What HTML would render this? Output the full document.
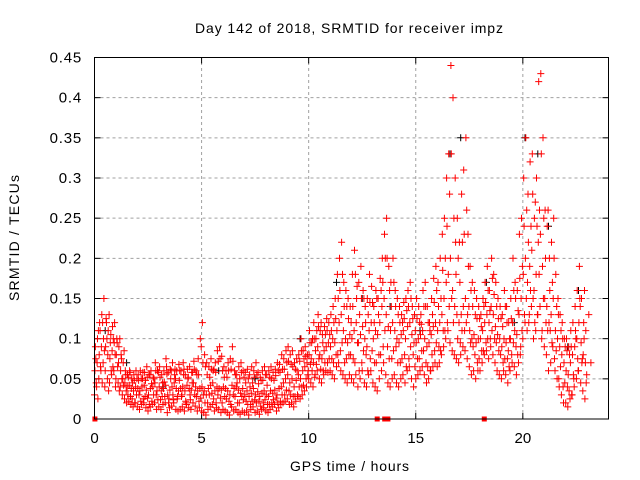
<!DOCTYPE html>
<html><head><meta charset="utf-8"><style>
body{margin:0;background:#fff}
svg{display:block;font-family:"Liberation Sans",sans-serif}
</style></head><body>
<svg id="chart" width="640" height="480">
<rect width="640" height="480" fill="#fff"/>
<text x="195" y="33" font-size="14" textLength="308" lengthAdjust="spacing" fill="#000">Day 142 of 2018, SRMTID for receiver impz</text>
<text x="290" y="471" font-size="14" textLength="119" lengthAdjust="spacing" fill="#000">GPS time / hours</text>
<text transform="translate(19,301) rotate(-90)" font-size="14" textLength="126" lengthAdjust="spacing" fill="#000">SRMTID / TECUs</text>
<g id="grid"></g>
<g id="ticks"></g>
<g id="marks"></g>
<rect x="94.5" y="57.5" width="514" height="361.5" fill="none" stroke="#000" stroke-width="1"/>
</svg>
<script>
const xTicks=[0,5,10,15,20];
const yTicks=[0,0.05,0.1,0.15,0.2,0.25,0.3,0.35,0.4,0.45];
const yTickLabels=["0","0.05","0.1","0.15","0.2","0.25","0.3","0.35","0.4","0.45"];
const sampleStep=0.1; // hours between samples
const redHi=[90,100,120,130,150,125,110,95,115,120,100,90,80,70,60,55,60,50,55,60,55,60,50,58,65,55,60,52,70,60,65,55,60,75,58,62,70,55,60,68,60,70,55,62,65,58,72,60,75,100,120,80,70,65,75,60,70,85,90,78,65,60,70,75,90,60,55,65,70,60,58,62,55,65,60,70,58,52,60,65,55,60,65,58,62,70,68,80,75,85,90,80,85,70,75,80,100,85,90,80,110,95,120,100,130,110,105,115,125,120,130,140,150,180,200,220,170,160,150,140,180,210,150,170,190,160,140,150,180,165,140,160,150,175,200,230,250,190,170,200,160,150,140,130,145,150,160,170,140,130,150,140,130,160,170,140,120,150,175,190,170,200,230,250,300,330,440,400,300,250,220,280,310,350,230,190,170,160,150,140,130,150,170,190,160,200,180,170,150,140,130,160,140,120,150,200,170,160,230,250,300,350,280,320,330,250,300,420,430,350,260,240,200,220,250,180,150,130,120,100,100,90,110,120,140,160,190,150,120,110];
const redMid=[60,70,80,90,100,90,80,75,85,95,80,70,60,50,45,40,42,38,35,40,38,35,40,42,36,30,38,40,45,35,40,35,38,42,30,36,40,45,38,35,38,40,35,42,38,36,45,40,35,38,40,35,30,38,42,45,35,40,38,36,40,38,35,30,42,38,40,36,32,38,30,35,28,32,38,30,34,28,32,35,30,28,35,32,36,30,38,40,45,50,55,45,50,40,48,55,50,60,65,70,80,75,70,85,90,80,75,85,90,95,90,100,95,110,120,130,110,100,95,105,100,110,120,95,105,115,100,90,110,120,100,110,105,120,140,150,130,115,110,120,110,100,95,105,110,100,115,120,105,95,95,100,105,110,100,90,95,105,115,120,110,120,130,150,170,180,200,160,140,130,120,130,140,150,130,110,100,105,95,100,100,110,120,130,120,140,130,115,105,100,90,100,95,85,100,120,110,105,130,150,180,200,170,190,210,160,180,220,230,190,150,140,120,130,150,110,100,90,80,70,60,55,70,80,90,100,120,95,80,70];
const redLo=[30,40,50,60,70,60,50,45,55,60,50,45,40,30,25,20,22,18,15,20,15,12,18,20,14,10,15,18,20,12,15,12,18,20,8,14,16,20,12,10,12,15,10,18,14,12,20,16,10,14,10,8,5,12,15,18,10,14,12,8,12,10,8,5,15,10,12,8,6,10,8,10,5,12,15,8,10,6,12,14,10,8,12,15,18,10,14,18,20,22,25,18,20,15,22,28,25,30,35,40,50,45,40,55,60,50,45,55,60,58,60,55,50,65,70,60,55,50,45,55,50,45,55,40,50,60,45,40,55,60,45,40,35,50,60,70,55,45,40,50,55,45,40,50,55,45,60,65,50,40,50,55,60,65,55,45,50,60,65,70,65,70,80,90,100,110,95,85,80,75,70,80,90,85,75,65,55,60,50,60,60,70,80,85,75,90,80,70,60,55,50,60,55,45,60,70,65,55,70,90,100,120,110,130,140,100,110,130,140,110,90,80,60,70,90,60,50,40,30,20,20,15,25,30,40,50,60,45,35,25];
const redQ1=[75,25,110,45,85,120,35,105,65,80,95,35,75,42,55,30,58,25,48,30,48,22,58,28,52,18,44,30,60,24,52,28,46,65,20,50,30,62,25,48,28,55,22,50,30,45,62,28,55,26,70,20,55,30,62,25,58,30,75,20,52,25,60,18,72,28,45,20,58,24,45,18,40,22,52,20,44,16,48,24,42,18,50,24,54,20,58,30,62,36,72,30,65,28,60,40,85,42,78,55,95,60,100,68,115,62,95,70,110,75,110,70,125,80,160,95,140,75,125,80,140,70,165,60,150,85,120,60,145,85,120,70,130,80,170,110,200,75,140,85,140,70,120,75,125,65,140,90,125,65,125,75,118,85,140,65,110,80,145,95,140,85,185,110,240,140,330,120,220,100,170,110,230,120,190,95,140,80,125,75,115,85,145,100,135,110,155,95,125,80,115,75,120,65,125,95,150,80,175,110,240,150,220,160,280,120,240,180,330,150,200,110,160,95,200,85,130,65,100,45,85,35,90,55,110,75,150,70,100,45];
const redQ2=[45,110,65,120,40,100,130,60,100,40,65,100,50,85,35,52,28,45,20,50,30,50,25,48,26,55,22,50,30,58,24,45,28,56,25,60,24,50,28,60,30,62,20,52,24,58,30,55,22,90,30,65,20,52,32,62,20,72,26,60,28,52,22,62,30,55,20,50,28,52,22,50,18,45,24,55,22,48,20,55,18,52,20,48,26,60,22,62,30,70,35,68,28,62,30,72,40,75,50,60,68,100,52,110,75,120,60,105,70,105,75,120,80,150,85,180,70,140,80,120,75,180,95,130,70,150,80,130,75,145,70,150,80,160,90,200,90,160,75,170,90,130,70,120,80,135,75,150,80,110,75,120,85,140,70,120,60,130,85,160,90,150,110,200,120,280,150,250,180,200,95,220,110,260,140,160,90,130,70,125,85,140,95,160,100,175,100,140,85,125,70,140,75,100,80,160,90,135,80,190,130,260,120,240,150,270,130,260,100,250,120,260,110,170,75,140,50,110,40,90,40,80,30,50,100,60,140,75,160,55,130,70];
const blackTimes=[0.5,1.5,3.2,5.8,7.5,9.6,11.3,12.5,13.8,15.2,16.6,17.1,18.3,19.6,20.1,20.7,21.2,22.1,22.6];
const blackVals=[110,70,40,60,50,100,170,150,140,110,330,350,170,120,350,330,240,90,160];
const zeroTimes=[0.02,13.2,13.55,13.7,18.2];

const svg=document.getElementById('chart');
const NS='http://www.w3.org/2000/svg';
const X0=94.5,X1=608.5,Y0=419,Y1=57.5,XMAX=24,YMAX=0.45;
function xs(t){return X0+t/XMAX*(X1-X0);}
function ys(v){return Y0-v/YMAX*(Y0-Y1);}
const grid=document.getElementById('grid'),ticks=document.getElementById('ticks'),marks=document.getElementById('marks');
function el(tag,attrs,parent){const e=document.createElementNS(NS,tag);for(const k in attrs)e.setAttribute(k,attrs[k]);parent.appendChild(e);return e;}
xTicks.forEach(t=>{
  const x=xs(t);
  if(t>0){const g=el('line',{x1:x,y1:Y0,x2:x,y2:Y1,stroke:'#a0a0a0','stroke-dasharray':'3,3'},grid);
  
  }
  el('line',{x1:x,y1:Y0,x2:x,y2:Y0-6,stroke:'#000'},ticks);
  el('line',{x1:x,y1:Y1,x2:x,y2:Y1+6,stroke:'#000'},ticks);
  const tx=el('text',{x:x,y:443,'font-size':15,'text-anchor':'middle'},ticks);
  tx.textContent=String(t);
  
  
});
yTicks.forEach((v,i)=>{
  const y=ys(v);
  if(i>0&&i<yTicks.length-1){const g=el('line',{x1:X0,y1:y,x2:X1,y2:y,stroke:'#a0a0a0','stroke-dasharray':'3,3'},grid);
  
  }
  el('line',{x1:X0,y1:y,x2:X0+6,y2:y,stroke:'#000'},ticks);
  el('line',{x1:X1,y1:y,x2:X1-6,y2:y,stroke:'#000'},ticks);
  const tx=el('text',{x:82,y:y+5,'font-size':15,'text-anchor':'end','letter-spacing':'0.8'},ticks);
  tx.textContent=yTickLabels[i];
  
  
});
function plusPath(pts){let d='';pts.forEach(([t,v])=>{const x=xs(t),y=ys(v);d+=`M${(x-3.5).toFixed(1)},${y.toFixed(1)}h7M${x.toFixed(1)},${(y-3.5).toFixed(1)}v7`;});return d;}
const blackPts=blackTimes.map((t,i)=>[t,blackVals[i]/1000]);
const bp=el('path',{d:plusPath(blackPts),stroke:'#000',fill:'none','stroke-width':1},marks);


[redLo,redMid,redHi,redQ1,redQ2].forEach((arr,si)=>{
  const pts=arr.map((v,i)=>[i*sampleStep+(si*0.02),v/1000]);
  const p=el('path',{d:plusPath(pts),stroke:'#ff0000',fill:'none','stroke-width':1},marks);
  
  
});
zeroTimes.forEach(t=>{
  const r=el('rect',{x:xs(t)-2.5,y:Y0-2.5,width:5,height:5,fill:'#ff0000'},marks);
  
  
});
</script>
</body></html>
